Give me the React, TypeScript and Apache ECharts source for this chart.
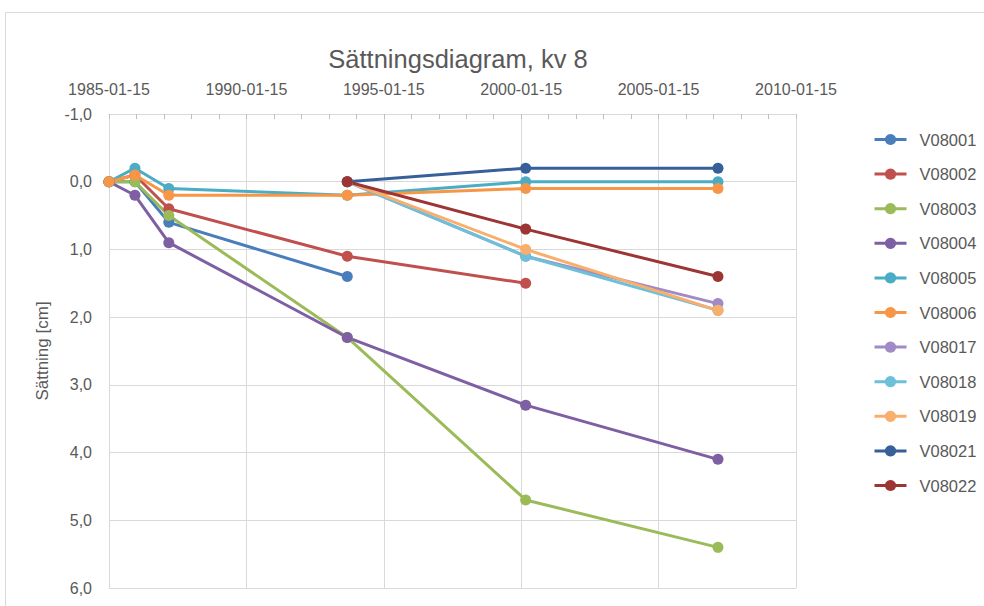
import React, { useEffect, useRef } from "react";
import * as echarts from "echarts";

const title = "Sättningsdiagram, kv 8";
const yAxisName = "Sättning [cm]";
const startDate = "1985-01-15";
const xTickLabels = ["1985-01-15", "1990-01-15", "1995-01-15", "2000-01-15", "2005-01-15", "2010-01-15"];
const measureDates = ["1985-01-15", "1985-12-26", "1987-03-21", "1993-09-17", "2000-03-15", "2007-03-15"];

const seriesNames = ["V08001", "V08002", "V08003", "V08004", "V08005", "V08006", "V08017", "V08018", "V08019", "V08021", "V08022"];
const seriesColors = ["#4A7EBB", "#C0504D", "#9BBB59", "#7E5FA4", "#4BACC6", "#F79646", "#A08BC6", "#6CC0DA", "#F9AE6B", "#375F99", "#9C3533"];

const v08001 = [0.0, 0.0, 0.6, 1.4, null, null];
const v08002 = [0.0, -0.1, 0.4, 1.1, 1.5, null];
const v08003 = [0.0, 0.0, 0.5, 2.3, 4.7, 5.4];
const v08004 = [0.0, 0.2, 0.9, 2.3, 3.3, 4.1];
const v08005 = [0.0, -0.2, 0.1, 0.2, 0.0, 0.0];
const v08006 = [0.0, -0.1, 0.2, 0.2, 0.1, 0.1];
const v08017 = [null, null, null, 0.0, 1.1, 1.8];
const v08018 = [null, null, null, 0.0, 1.1, 1.9];
const v08019 = [null, null, null, 0.0, 1.0, 1.9];
const v08021 = [null, null, null, 0.0, -0.2, -0.2];
const v08022 = [null, null, null, 0.0, 0.7, 1.4];

const seriesValues = [v08001, v08002, v08003, v08004, v08005, v08006, v08017, v08018, v08019, v08021, v08022];

const YEAR_MS = 365.25 * 24 * 3600 * 1000;
const toYears = (d: string) => (Date.parse(d + "T00:00:00Z") - Date.parse(startDate + "T00:00:00Z")) / YEAR_MS;

const FONT = "'Liberation Sans', 'DejaVu Sans', sans-serif";
const TEXT = "#595959";

export default function App() {
  const ref = useRef<HTMLDivElement>(null);
  useEffect(() => {
    if (!ref.current) return;
    const chart = echarts.init(ref.current, undefined, { renderer: "svg" });
    const xs = measureDates.map(toYears);
    chart.setOption({
      animation: false,
      backgroundColor: "#ffffff",
      textStyle: { fontFamily: FONT },
      title: {
        text: title,
        left: 453,
        textAlign: "center",
        top: 41,
        textStyle: { fontSize: 25.5, fontWeight: "normal", color: TEXT, fontFamily: FONT },
      },
      graphic: [
        {
          type: "rect",
          shape: { x: 5.5, y: 12.5, width: 1000, height: 700 },
          style: { fill: "none", stroke: "#d9d9d9", lineWidth: 1 },
          silent: true,
        },
      ],
      legend: {
        orient: "vertical",
        left: 868,
        top: 126,
        itemWidth: 32,
        itemHeight: 14,
        itemGap: 17.6,
        lineStyle: { width: 3 },
        textStyle: { fontSize: 16.5, color: TEXT, fontFamily: FONT, padding: [0, 0, 0, 8] },
        data: seriesNames,
      },
      grid: { left: 109, right: 188, top: 114, bottom: 18, containLabel: false },
      xAxis: {
        type: "value",
        position: "top",
        min: 0,
        max: 25,
        interval: 5,
        axisLine: { show: true, onZero: false, lineStyle: { color: "#d9d9d9" } },
        axisTick: { show: true, inside: true, length: 5, lineStyle: { color: "#bfbfbf" } },
        minorTick: { show: true, splitNumber: 5, length: 5, lineStyle: { color: "#bfbfbf" } },
        splitLine: { show: true, lineStyle: { color: "#d9d9d9", width: 1 } },
        axisLabel: {
          margin: 17,
          fontSize: 16,
          color: TEXT,
          fontFamily: FONT,
          showMaxLabel: true,
          showMinLabel: true,
          formatter: (v: number) => xTickLabels[Math.round(v / 5)] ?? "",
        },
      },
      yAxis: {
        type: "value",
        inverse: true,
        min: -1,
        max: 6,
        interval: 1,
        name: yAxisName,
        nameLocation: "middle",
        nameGap: 58,
        nameTextStyle: { fontSize: 17, color: TEXT, fontFamily: FONT },
        axisLine: { show: true, onZero: false, lineStyle: { color: "#d9d9d9" } },
        axisTick: { show: false },
        splitLine: { show: true, lineStyle: { color: "#d9d9d9", width: 1 } },
        axisLabel: {
          margin: 17,
          fontSize: 16,
          color: TEXT,
          fontFamily: FONT,
          formatter: (v: number) => v.toFixed(1).replace(".", ","),
        },
      },
      series: seriesNames.map((name, i) => ({
        name,
        type: "line",
        data: seriesValues[i]
          .map((v, j) => (v === null ? null : [xs[j], v]))
          .filter((p) => p !== null),
        color: seriesColors[i],
        symbol: "circle",
        symbolSize: 11,
        lineStyle: { width: 3, color: seriesColors[i] },
        itemStyle: { color: seriesColors[i] },
        connectNulls: false,
      })),
    });
    return () => chart.dispose();
  }, []);
  return (
    <div
      ref={ref}
      style={{ position: "absolute", left: 0, top: 0, width: 984, height: 606 }}
    />
  );
}
